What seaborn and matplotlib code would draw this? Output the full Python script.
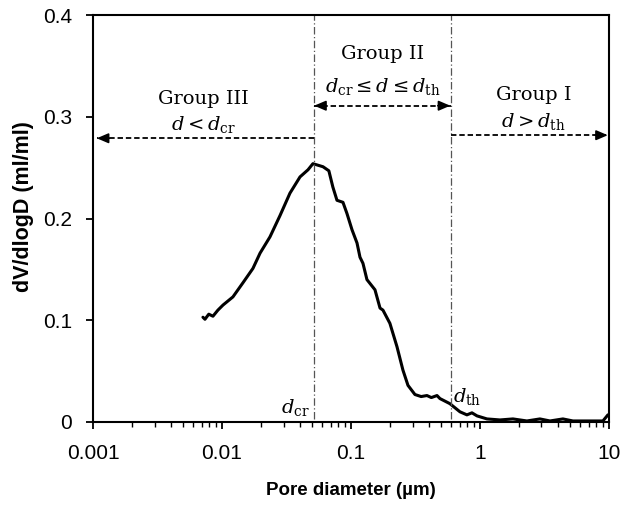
import matplotlib
matplotlib.use("Agg")
import matplotlib.pyplot as plt
import seaborn as sns
import pandas as pd
from matplotlib.ticker import LogLocator, FixedLocator, NullFormatter

pore_diameter = [0.00712, 0.00738, 0.0079, 0.00851, 0.0093, 0.01019, 0.01216, 0.01456,
                 0.01738, 0.01973, 0.02355, 0.02818, 0.03365, 0.04027, 0.04645, 0.0507,
                 0.0607, 0.0674, 0.0724, 0.0779, 0.0867, 0.0931, 0.1019, 0.1114, 0.1175,
                 0.1239, 0.133, 0.1535, 0.168, 0.177, 0.2004, 0.2274, 0.2529, 0.2767,
                 0.3133, 0.35, 0.3882, 0.42, 0.4645, 0.4898, 0.5848, 0.6998, 0.7925,
                 0.867, 0.9484, 1.133, 1.429, 1.802, 2.312, 2.917, 3.491, 4.397, 5.26,
                 6.75, 8.98, 9.82]
dv_dlogd = [0.103, 0.101, 0.106, 0.104, 0.110, 0.115, 0.123, 0.137,
            0.151, 0.166, 0.182, 0.203, 0.225, 0.241, 0.248, 0.254,
            0.251, 0.247, 0.231, 0.218, 0.216, 0.205, 0.189, 0.176, 0.162,
            0.156, 0.140, 0.130, 0.112, 0.110, 0.097, 0.074, 0.051, 0.036,
            0.027, 0.025, 0.026, 0.024, 0.026, 0.023, 0.018, 0.010, 0.007,
            0.009, 0.006, 0.003, 0.002, 0.003, 0.001, 0.003, 0.001, 0.003, 0.001,
            0.001, 0.001, 0.007]
d_cr = 0.0516
d_th = 0.595
x_ticks = [0.001, 0.01, 0.1, 1, 10]
x_tick_labels = ["0.001", "0.01", "0.1", "1", "10"]
y_ticks = [0, 0.1, 0.2, 0.3, 0.4]
y_tick_labels = ["0", "0.1", "0.2", "0.3", "0.4"]

sns.set_style("ticks")
plt.rcParams["font.family"] = ["Liberation Sans", "DejaVu Sans"]
plt.rcParams["mathtext.fontset"] = "dejavuserif"
plt.rcParams["text.color"] = "black"
plt.rcParams["axes.labelcolor"] = "black"

fig = plt.figure(figsize=(6.22, 5.07), dpi=100)
ax = fig.add_axes([0.1495, 0.1677, 0.8295, 0.8023])

df = pd.DataFrame({"d": pore_diameter, "v": dv_dlogd})
sns.lineplot(data=df, x="d", y="v", ax=ax, color="black", lw=2.2, estimator=None, sort=False)

ax.set_xscale("log")
ax.set_xlim(0.001, 10)
ax.set_ylim(0, 0.4)
ax.xaxis.set_major_locator(FixedLocator(x_ticks))
ax.set_xticklabels(x_tick_labels)
ax.xaxis.set_minor_locator(LogLocator(base=10, subs=range(2, 10)))
ax.xaxis.set_minor_formatter(NullFormatter())
ax.set_yticks(y_ticks)
ax.set_yticklabels(y_tick_labels)
ax.tick_params(axis="both", which="major", direction="out", length=5, width=1.3,
               labelsize=15, colors="black")
ax.tick_params(axis="x", which="major", pad=11)
ax.tick_params(axis="y", which="major", pad=10)
ax.tick_params(axis="x", which="minor", direction="out", length=3.5, width=1.0, colors="black")
for sp in ax.spines.values():
    sp.set_linewidth(1.5)
    sp.set_color("black")
ax.set_xlabel("Pore diameter (µm)", fontsize=13.5, fontweight="bold", color="black")
ax.set_ylabel("dV/dlogD (ml/ml)", fontsize=15.5, fontweight="bold", color="black")
ax.xaxis.set_label_coords(0.5, -0.148)
ax.yaxis.set_label_coords(-0.115, 0.53)

# vertical boundaries
for xv in (d_cr, d_th):
    ax.plot([xv, xv], [0.003, 0.4], color="#555555", lw=0.9, linestyle=(0, (6, 2, 1, 2)))

dash = (0, (3, 1.6))
def arrow_line(x0, x1, y, heads):
    ax.plot([x0, x1], [y, y], color="black", lw=1.3, linestyle=dash)
    for tip, back in heads:
        ax.annotate("", xy=(tip, y), xytext=(back, y),
                    arrowprops=dict(arrowstyle="-|>,head_length=0.7,head_width=0.3",
                                    color="black", lw=1.2, shrinkA=0, shrinkB=0))

arrow_line(d_cr, 0.00107, 0.279, [(0.00107, 0.00107 * 1.25)])
arrow_line(d_cr, d_th, 0.311, [(d_cr * 1.005, d_cr * 1.25), (d_th * 0.99, d_th * 0.99 / 1.25)])
arrow_line(d_th * 1.01, 9.8, 0.282, [(9.8, 9.8 / 1.25)])

serif = ["DejaVu Serif"]
ax.text(0.00712, 0.313, "Group III", fontsize=14, family=serif, ha="center", va="baseline")
ax.text(0.00712, 0.287, r"$d < d_{\rm cr}$", fontsize=14, family=serif, ha="center", va="baseline")
ax.text(0.175, 0.357, "Group II", fontsize=14, family=serif, ha="center", va="baseline")
ax.text(0.175, 0.324, r"$d_{\rm cr} \leq d \leq d_{\rm th}$", fontsize=14, family=serif, ha="center", va="baseline")
ax.text(2.6, 0.317, "Group I", fontsize=14, family=serif, ha="center", va="baseline")
ax.text(2.6, 0.290, r"$d > d_{\rm th}$", fontsize=14, family=serif, ha="center", va="baseline")
ax.text(d_cr * 0.93, 0.009, r"$d_{\rm cr}$", fontsize=14, family=serif, ha="right", va="baseline")
ax.text(d_th * 1.03, 0.020, r"$d_{\rm th}$", fontsize=14, family=serif, ha="left", va="baseline")

fig.savefig("out.png", dpi=100)
